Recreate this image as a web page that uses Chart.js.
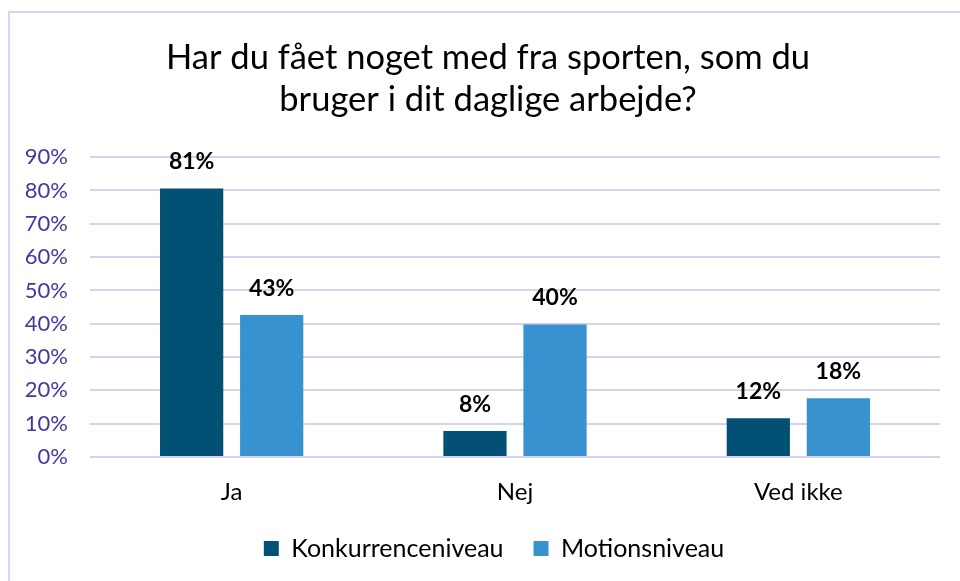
<!DOCTYPE html>
<html>
<head>
<meta charset="utf-8">
<script src="https://cdn.jsdelivr.net/npm/chart.js@4.4.0/dist/chart.umd.min.js"></script>
<style>
  html, body { margin: 0; padding: 0; background: #fff; overflow: hidden; }
  #wrap { position: relative; width: 960px; height: 581px; }
  #frame { position: absolute; left: 8px; top: 11px; width: 1000px; height: 700px; border: 2px solid #d8d4f2; box-sizing: border-box; }
  canvas { position: absolute; left: 0; top: 0; }
</style>
</head>
<body>
<div id="wrap">
  <div id="frame"></div>
  <canvas id="c" width="960" height="581"></canvas>
</div>
<script>
const titleLines = ["Har du fået noget med fra sporten, som du", "bruger i dit daglige arbejde?"];
const categories = ["Ja", "Nej", "Ved ikke"];
const seriesNames = ["Konkurrenceniveau", "Motionsniveau"];
const konkurrence = [80.6, 7.8, 11.6];
const motion = [42.6, 39.8, 17.6];
const yTicksMax = 90;
const yTickStep = 10;

const FONT = "Lato, 'Open Sans', sans-serif";

const valueLabels = {
  id: 'valueLabels',
  afterDatasetsDraw(chart) {
    const ctx = chart.ctx;
    ctx.save();
    ctx.font = "bold 23px " + FONT;
    ctx.fillStyle = "#000";
    ctx.textAlign = "center";
    ctx.textBaseline = "alphabetic";
    chart.data.datasets.forEach((ds, i) => {
      const meta = chart.getDatasetMeta(i);
      meta.data.forEach((el, j) => {
        ctx.fillText(Math.round(ds.data[j]) + "%", el.x, el.y - 19);
      });
    });
    ctx.restore();
  }
};

const boxShift = {
  id: 'boxShift',
  afterLayout(chart) {
    if (chart.legend) { chart.legend.left += 24; chart.legend.right += 24; }
    if (chart.titleBlock) { chart.titleBlock.left += 18; chart.titleBlock.right += 18; }
  }
};

new Chart(document.getElementById('c'), {
  type: 'bar',
  data: {
    labels: categories,
    datasets: [
      { label: seriesNames[0], data: konkurrence, backgroundColor: '#025073', categoryPercentage: 0.565, barPercentage: 0.79 },
      { label: seriesNames[1], data: motion, backgroundColor: '#3892cf', categoryPercentage: 0.565, barPercentage: 0.79 }
    ]
  },
  options: {
    responsive: false,
    animation: false,
    layout: { padding: { left: 0, right: 20, top: 0, bottom: 10 } },
    plugins: {
      title: {
        display: true,
        text: titleLines,
        color: '#000',
        font: { family: FONT, size: 34.5, weight: 'normal', lineHeight: 1.22 },
        padding: { top: 37, bottom: 36 }
      },
      legend: {
        position: 'bottom',
        labels: {
          color: '#000',
          font: { family: FONT, size: 25 },
          boxWidth: 15,
          boxHeight: 15,
          padding: 30
        }
      },
      tooltip: { enabled: false }
    },
    scales: {
      x: {
        afterFit(scale) { scale.height = 49; },
        grid: { display: false, drawTicks: false },
        border: { display: false },
        ticks: { color: '#000', font: { family: FONT, size: 24 }, padding: 21 }
      },
      y: {
        min: 0,
        max: yTicksMax,
        afterFit(scale) { scale.width = 90; },
        grid: { color: '#d6d2ee', lineWidth: 2, drawTicks: false },
        border: { display: false },
        ticks: {
          stepSize: yTickStep,
          color: '#3f3a9e',
          font: { family: FONT, size: 22 },
          padding: 22,
          callback: v => v + '%'
        }
      }
    }
  },
  plugins: [valueLabels, boxShift]
});
</script>
</body>
</html>
